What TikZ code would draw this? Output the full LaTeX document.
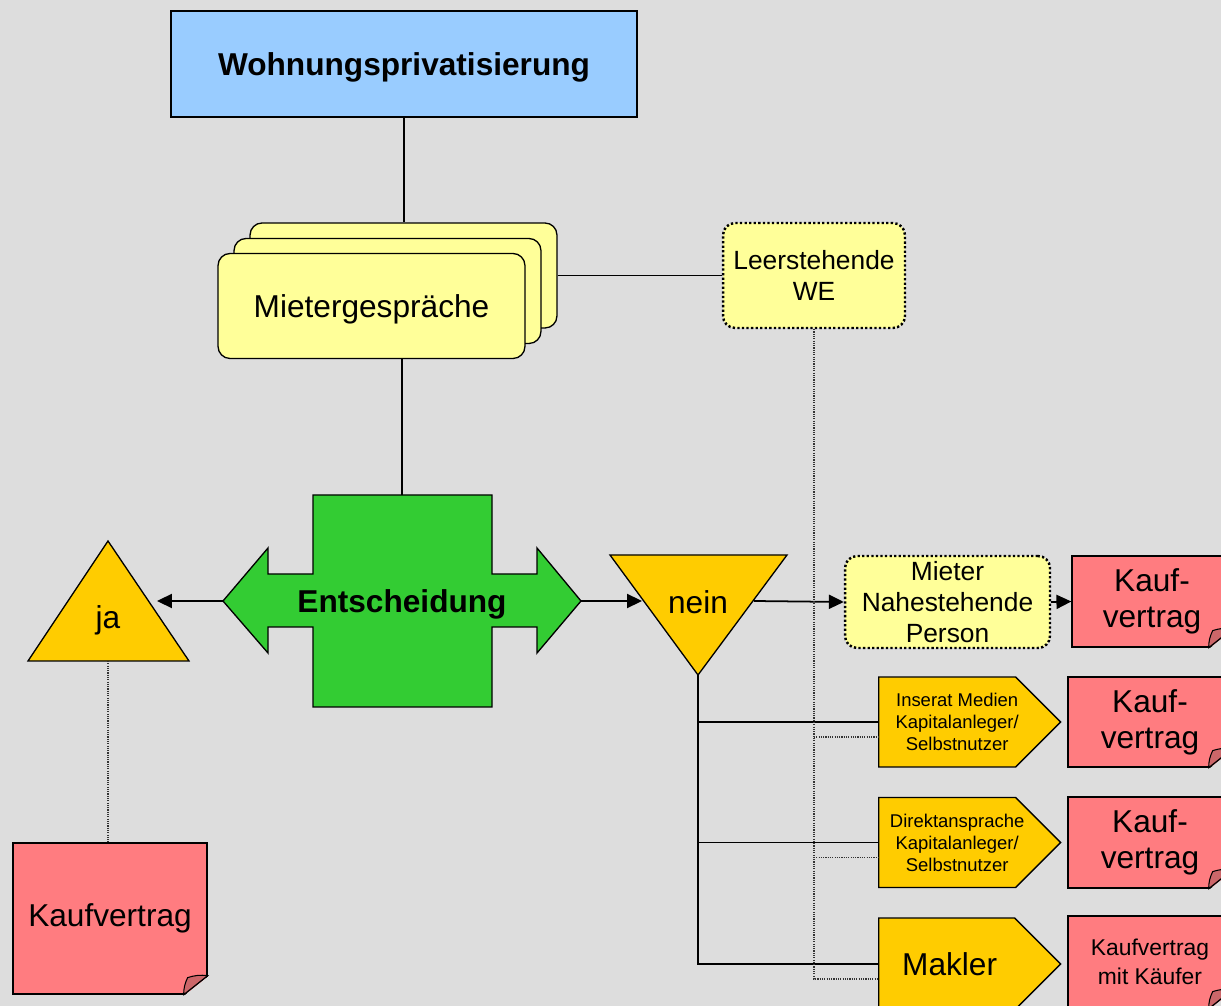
\documentclass[tikz,border=0pt]{standalone}
\usepackage{fontspec}
\setmainfont{Liberation Sans}
\usetikzlibrary{arrows.meta, shapes.symbols}
\definecolor{bggray}{HTML}{DDDDDD}
\definecolor{skyblue}{HTML}{99CCFF}
\definecolor{paleyellow}{HTML}{FFFF99}
\definecolor{leafgreen}{HTML}{33CC33}
\definecolor{gold}{HTML}{FFCC00}
\definecolor{notepink}{HTML}{FF7C80}
\definecolor{curlpink}{HTML}{CC6669}
\tikzstyle{bigtext}=[font=\fontsize{18}{20.5}\selectfont]
\tikzstyle{midtext}=[font=\fontsize{15}{17.5}\selectfont]
\tikzstyle{smalltext}=[font=\fontsize{10.5}{12.5}\selectfont]
\tikzstyle{box}=[draw, line width=0.75pt, inner sep=0pt, align=center]
\tikzstyle{talk}=[box, bigtext, fill=paleyellow, rounded corners=0.24cm, minimum width=6.14cm, minimum height=2.1cm]
\tikzstyle{dotbox}=[box, midtext, fill=paleyellow, rounded corners=0.24cm, line width=1.4pt, dash pattern=on 1.3pt off 1.3pt]
\tikzstyle{note}=[box, fill=notepink]
\tikzstyle{sig}=[box, signal, signal to=east, signal pointer angle=90, fill=gold, anchor=west, minimum width=3.64cm, minimum height=1.8cm]
\tikzstyle{sigtext}=[smalltext, align=center, xshift=0.2cm]
\tikzstyle{decide}=[draw, line width=0.75pt, fill=gold]
\tikzstyle{link}=[line width=1pt]
\tikzstyle{flow}=[link, -{Triangle[length=8.5pt,width=8pt]}]
\tikzstyle{hint}=[line width=0.65pt, black!80, dash pattern=on 0.65pt off 0.65pt]

\begin{document}
\begin{tikzpicture}[x=0.02cm, y=-0.02cm]
  \useasboundingbox (0,0) rectangle (1221,1006);
  \fill[bggray] (0,0) rectangle (1221,1006);

  % top and talks
  \node[box, bigtext, text depth=0pt, fill=skyblue, minimum width=9.32cm, minimum height=2.12cm] (top) at (404,64) {\textbf{Wohnungsprivatisierung}};
  \node[talk] (stack3) at (403.5,275.5) {};
  \node[talk] (stack2) at (387.5,291) {};
  \node[talk, text depth=0pt] (talks) at (371.5,306) {Mietergespräche};
  \node[dotbox, minimum width=3.64cm, minimum height=2.1cm] (leer) at (814,275.5) {Leerstehende\\WE};

  % decision cross
  \draw[line width=0.75pt, fill=leafgreen] (313,495) -- (492,495) -- (492,574) -- (537,574) -- (537,548) -- (581,601)
    -- (537,653) -- (537,627) -- (492,627) -- (492,707) -- (313,707) -- (313,627) -- (268,627) -- (268,653)
    -- (223,601) -- (268,548) -- (268,574) -- (313,574) -- cycle;
  \node[bigtext, text depth=0pt, inner sep=0pt, minimum width=7.16cm, minimum height=4.24cm] (dec) at (402,601) {\textbf{Entscheidung}};

  % ja / nein
  \draw[decide] (108,541) -- (189,661) -- (28,661) -- cycle;
  \node[bigtext] (ja) at (108,620) {ja};
  \coordinate (ja-in) at (157,601);
  \coordinate (ja-foot) at (108,661);
  \draw[decide] (610,555) -- (787,555) -- (698,675) -- cycle;
  \node[bigtext] (nein) at (698,602) {nein};
  \coordinate (nein-in) at (642,601);
  \coordinate (nein-out) at (754,601);
  \coordinate (nein-tip) at (698,675);

  % buyers
  \node[dotbox, minimum width=4.1cm, minimum height=1.84cm] (mieter) at (947.5,602) {Mieter\\Nahestehende\\Person};
  \node[sig, label={[sigtext]center:Inserat Medien\\Kapitalanleger/\\Selbstnutzer}] (ads) at (878,722) {};
  \node[sig, label={[sigtext]center:Direktansprache\\Kapitalanleger/\\Selbstnutzer}] (direct) at (878,842.5) {};
  \node[sig, minimum height=1.84cm, label={[bigtext, xshift=0.06cm]center:Makler}] (agent) at (878,964) {};

  % contracts
  \node[note, bigtext, minimum width=3.88cm, minimum height=3.02cm] (kv0) at (110,918.5) {Kaufvertrag};
  \node[note, bigtext, minimum width=3.2cm, minimum height=1.82cm] (kv1) at (1152,601.5) {Kauf-\\vertrag};
  \node[note, bigtext, minimum width=3.28cm, minimum height=1.8cm] (kv2) at (1150,722) {Kauf-\\vertrag};
  \node[note, bigtext, minimum width=3.28cm, minimum height=1.82cm] (kv3) at (1150,842.5) {Kauf-\\vertrag};
  \node[note, font=\fontsize{13}{16.5}\selectfont, minimum width=3.28cm, minimum height=1.84cm] (kv4) at (1150,962) {Kaufvertrag\\mit Käufer};
  \foreach \n in {kv0,kv1,kv2,kv3,kv4} {
    \fill[bggray] ([shift={(-24,1.5)}]\n.south east) -- ([shift={(1.5,1.5)}]\n.south east) -- ([shift={(1.5,-19)}]\n.south east) -- cycle;
    \draw[line width=0.75pt] ([shift={(-24,0)}]\n.south east) -- ([shift={(0,-19)}]\n.south east);
    \filldraw[fill=curlpink, line width=0.6pt] ([shift={(-24,0)}]\n.south east) to[bend left=12] ([shift={(-20,-17)}]\n.south east)
      to[bend left=12] ([shift={(0,-19)}]\n.south east) -- cycle;
  }

  % connectors
  \draw[link] (top.south) -- (top.south |- stack3.north);
  \draw[link] (stack3.east) -- (leer.west);
  \draw[link] (dec.north |- talks.south) -- (dec.north);
  \draw[flow] (dec.west) -- (ja-in);
  \draw[flow] (dec.east) -- (nein-in);
  \draw[flow] (nein-out) -- (mieter.west);
  \draw[flow] (mieter.east) -- (kv1.west);
  \draw[link] (nein-tip) |- (agent.west);
  \draw[link] (nein-tip |- ads.west) -- (ads.west);
  \draw[link] (nein-tip |- direct.west) -- (direct.west);
  \draw[hint] (ja-foot) -- (ja-foot |- kv0.north);
  \draw[hint] (leer.south) |- ([shift={(0,15)}]agent.west);
  \draw[hint] (leer.south |- ads.west) ++(0,15) -- ([shift={(0,15)}]ads.west);
  \draw[hint] (leer.south |- direct.west) ++(0,15) -- ([shift={(0,15)}]direct.west);
\end{tikzpicture}
\end{document}
